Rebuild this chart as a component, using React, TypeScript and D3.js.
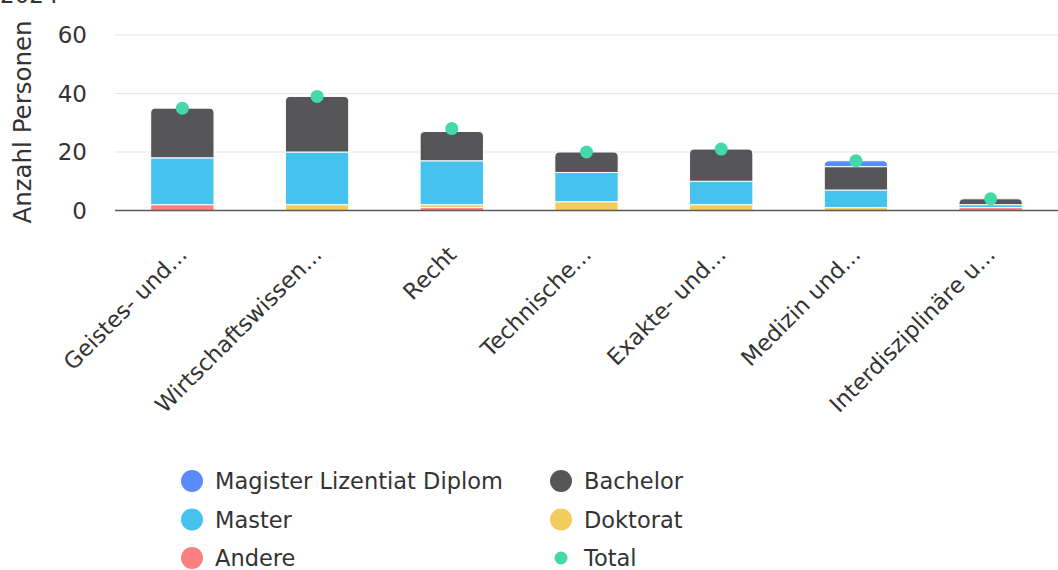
import React from "react";
import * as d3 from "d3";

const categories = [
  "Geistes- und...",
  "Wirtschaftswissen...",
  "Recht",
  "Technische...",
  "Exakte- und...",
  "Medizin und...",
  "Interdisziplinäre u...",
];
const andere = [2, 0, 1, 0, 0, 0, 1];
const doktorat = [0, 2, 1, 3, 2, 1, 0];
const master = [16, 18, 15, 10, 8, 6, 1];
const bachelor = [17, 19, 10, 7, 11, 8, 2];
const magister = [0, 0, 0, 0, 0, 2, 0];
const total = [35, 39, 28, 20, 21, 17, 4];
const yTicks = [0, 20, 40, 60];

const seriesNames = ["Andere", "Doktorat", "Master", "Bachelor", "Magister Lizentiat Diplom"];
const seriesValues = [andere, doktorat, master, bachelor, magister];
const colors: Record<string, string> = {
  "Magister Lizentiat Diplom": "#5b8cfd",
  Master: "#45c2ee",
  Andere: "#fd8080",
  Bachelor: "#565658",
  Doktorat: "#f3cc5e",
  Total: "#45d8aa",
};
const legendItems = [
  ["Magister Lizentiat Diplom", "Master", "Andere"],
  ["Bachelor", "Doktorat", "Total"],
];

const W = 1058;
const H = 570;
const FONT = "'DejaVu Sans', sans-serif";
const TEXT = "#333";

export default function App() {
  const x = d3.scaleBand<string>().domain(categories).range([115, 1058]).paddingInner(0.53).paddingOuter(0.265);
  const y = d3.scaleLinear().domain([0, 60]).range([210.5, 35]);

  const rows = categories.map((c, i) => {
    const r: any = { cat: c };
    seriesNames.forEach((s, k) => (r[s] = seriesValues[k][i]));
    return r;
  });
  const stack = d3.stack<any>().keys(seriesNames)(rows);

  const topKey = categories.map((_, i) => {
    let top = -1;
    seriesNames.forEach((s, k) => {
      if (seriesValues[k][i] > 0) top = k;
    });
    return top;
  });

  const roundTop = (x0: number, y0: number, w: number, h: number, r: number) => {
    const rr = Math.min(r, h, w / 2);
    return `M${x0},${y0 + h}V${y0 + rr}Q${x0},${y0} ${x0 + rr},${y0}H${x0 + w - rr}Q${x0 + w},${y0} ${x0 + w},${y0 + rr}V${y0 + h}Z`;
  };

  return (
    <div style={{ position: "fixed", left: 0, top: 0, width: W, height: H, background: "#fff" }}>
      <svg width={W} height={H} style={{ display: "block", fontFamily: FONT }}>
        <text x={0} y={3} fontSize={23} fill={TEXT}>2024</text>
        {yTicks.map((t) => (
          <g key={t}>
            {t !== 0 && <line x1={115} x2={1058} y1={y(t)} y2={y(t)} stroke="#e6e6e6" strokeWidth={1.2} />}
            <text x={87} y={y(t)} dy="0.36em" textAnchor="end" fontSize={23} fill={TEXT}>{t}</text>
          </g>
        ))}
        <text transform={`translate(31,${122}) rotate(-90)`} textAnchor="middle" fontSize={24.5} fill={TEXT}>Anzahl Personen</text>
        {stack.map((layer, k) =>
          layer.map((d, i) => {
            const v = d[1] - d[0];
            if (v <= 0) return null;
            const x0 = x(categories[i])!;
            const w = x.bandwidth();
            const y0 = y(d[1]);
            const h = y(d[0]) - y(d[1]);
            const fill = colors[seriesNames[k]];
            if (topKey[i] === k) {
              return <path key={`${k}-${i}`} d={roundTop(x0, y0, w, h, 5)} fill={fill} stroke="#fff" strokeWidth={1} />;
            }
            return <rect key={`${k}-${i}`} x={x0} y={y0} width={w} height={h} fill={fill} stroke="#fff" strokeWidth={1} />;
          })
        )}
        <line x1={115} x2={1058} y1={y(0)} y2={y(0)} stroke="#5a5a5a" strokeWidth={1.5} />
        {total.map((t, i) => (
          <circle key={i} cx={x(categories[i])! + x.bandwidth() / 2} cy={y(t)} r={6.5} fill={colors.Total} />
        ))}
        {categories.map((c) => (
          <text
            key={c}
            transform={`translate(${x(c)! + x.bandwidth() / 2 + 6},${256}) rotate(-45)`}
            textAnchor="end"
            fontSize={22.5}
            fill={TEXT}
          >
            {c}
          </text>
        ))}
        {legendItems.map((col, ci) =>
          col.map((name, ri) => {
            const cx = ci === 0 ? 192 : 561;
            const cy = 481 + ri * 38.5;
            return (
              <g key={name}>
                <circle cx={cx} cy={cy} r={name === "Total" ? 6.5 : 11} fill={colors[name]} />
                <text x={cx + 23} y={cy} dy="0.36em" fontSize={22.5} fill={TEXT}>{name}</text>
              </g>
            );
          })
        )}
      </svg>
    </div>
  );
}
